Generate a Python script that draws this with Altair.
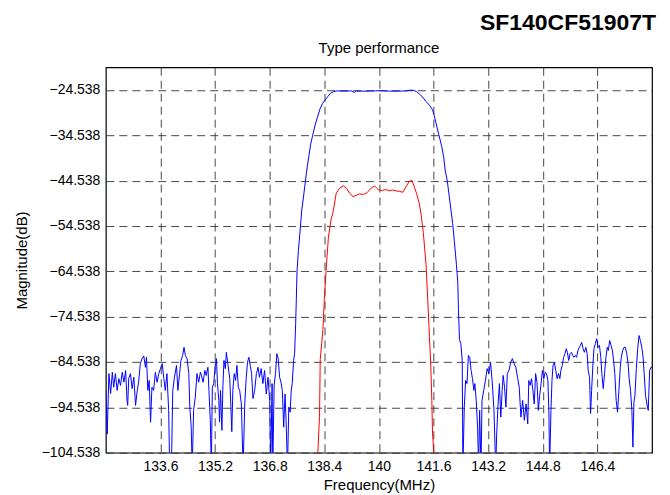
import altair as alt
import pandas as pd

# ---- data ----
blue_freq = [
    132.00, 132.04, 132.09, 132.14, 132.19, 132.23, 132.28, 132.33, 132.38, 132.43,
    132.48, 132.53, 132.58, 132.62, 132.64, 132.67, 132.72, 132.77, 132.82, 132.87,
    132.92, 132.96, 133.01, 133.06, 133.11, 133.16, 133.19, 133.23, 133.27, 133.31,
    133.35, 133.40, 133.45, 133.50, 133.55, 133.60, 133.65, 133.70, 133.74, 133.79,
    133.84, 133.87, 133.92, 133.96, 134.01, 134.07, 134.11, 134.16, 134.20, 134.25,
    134.29, 134.33, 134.38, 134.43, 134.46, 134.50, 134.53, 134.57, 134.62, 134.67,
    134.72, 134.77, 134.80, 134.85, 134.90, 134.94, 134.99, 135.02, 135.06, 135.09,
    135.12, 135.16, 135.20, 135.24, 135.27, 135.31, 135.33, 135.36, 135.40, 135.43,
    135.46, 135.50, 135.53, 135.58, 135.63, 135.66, 135.69, 135.72, 135.76, 135.80,
    135.84, 135.88, 135.92, 135.97, 136.02, 136.07, 136.11, 136.15, 136.19, 136.23,
    136.27, 136.31, 136.36, 136.41, 136.46, 136.50, 136.55, 136.60, 136.65, 136.70,
    136.75, 136.80, 136.83, 136.87, 136.89, 136.93, 136.97, 137.01, 137.05, 137.09,
    137.13, 137.17, 137.21, 137.25, 137.28, 137.32, 137.36, 137.40, 137.43, 137.46,
    137.50, 137.53, 137.56, 137.58, 137.60, 137.64, 137.68, 137.74, 137.80, 137.85,
    137.90, 137.95, 138.00, 138.06, 138.13, 138.20, 138.28, 138.35, 138.42, 138.50,
    138.58, 138.66, 138.76, 139.00, 139.20, 139.28, 139.34, 139.60, 139.90, 140.00,
    140.30, 140.60, 140.80, 140.90, 141.00, 141.10, 141.20, 141.30, 141.38, 141.48,
    141.57, 141.62, 141.67, 141.75, 141.84, 141.90, 141.94, 142.00, 142.06, 142.11,
    142.16, 142.21, 142.27, 142.31, 142.33, 142.36, 142.40, 142.44, 142.46, 142.50,
    142.54, 142.58, 142.62, 142.66, 142.70, 142.74, 142.78, 142.81, 142.85, 142.89,
    142.92, 142.95, 142.99, 143.02, 143.07, 143.12, 143.17, 143.22, 143.27, 143.32,
    143.37, 143.42, 143.45, 143.49, 143.53, 143.57, 143.61, 143.64, 143.68, 143.72,
    143.76, 143.81, 143.86, 143.91, 143.96, 144.01, 144.06, 144.11, 144.16, 144.21,
    144.26, 144.31, 144.36, 144.39, 144.43, 144.47, 144.51, 144.55, 144.59, 144.63,
    144.67, 144.71, 144.75, 144.79, 144.83, 144.87, 144.91, 144.95, 144.98, 145.00,
    145.04, 145.07, 145.10, 145.14, 145.18, 145.22, 145.26, 145.30, 145.33, 145.37,
    145.41, 145.45, 145.49, 145.52, 145.56, 145.60, 145.64, 145.68, 145.71, 145.75,
    145.79, 145.83, 145.87, 145.90, 145.94, 145.98, 146.02, 146.06, 146.10, 146.13,
    146.17, 146.20, 146.23, 146.27, 146.30, 146.34, 146.38, 146.42, 146.46, 146.50,
    146.53, 146.57, 146.61, 146.65, 146.69, 146.72, 146.76, 146.80, 146.84, 146.88,
    146.91, 146.95, 146.99, 147.03, 147.07, 147.10, 147.14, 147.18, 147.22, 147.26,
    147.30, 147.33, 147.37, 147.41, 147.44, 147.47, 147.50, 147.54, 147.58, 147.62,
    147.66, 147.70, 147.74, 147.77, 147.81, 147.85, 147.89, 147.93, 147.97, 148.00,
]
blue_db = [
    -90.8, -100.4, -87.1, -91.5, -86.8, -90.1, -87.1, -90.8, -88.2, -89.7,
    -86.8, -89.0, -86.4, -93.0, -94.1, -88.2, -87.1, -90.4, -87.9, -94.1,
    -90.8, -89.0, -84.9, -83.8, -83.2, -85.7, -83.5, -90.8, -88.6, -97.8,
    -90.1, -90.8, -86.8, -89.0, -87.1, -86.0, -84.9, -88.2, -90.8, -87.1,
    -95.2, -108.0, -108.0, -90.8, -87.9, -85.3, -90.8, -87.1, -84.2, -83.1,
    -81.3, -83.1, -83.8, -87.1, -94.5, -98.9, -108.0, -95.2, -92.3, -87.1,
    -89.0, -86.8, -87.5, -89.0, -86.4, -87.5, -85.7, -90.8, -97.4, -108.0,
    -90.1, -89.3, -85.7, -83.8, -89.3, -93.0, -97.8, -90.8, -99.6, -89.7,
    -84.2, -86.0, -82.4, -85.3, -88.2, -93.8, -99.9, -90.8, -87.1, -88.6,
    -85.3, -90.1, -90.8, -93.8, -108.0, -93.8, -88.2, -84.6, -83.5, -85.3,
    -87.1, -92.6, -90.8, -87.1, -85.7, -87.9, -86.0, -89.3, -86.4, -91.6,
    -87.9, -93.0, -108.0, -89.3, -108.0, -89.7, -87.1, -82.7, -83.8, -87.9,
    -89.0, -90.8, -98.9, -91.6, -97.4, -108.0, -94.5, -95.6, -90.8, -89.3,
    -84.2, -82.7, -76.1, -70.8, -64.5, -60.0, -56.5, -51.0, -47.5, -44.4,
    -41.5, -39.0, -36.5, -34.5, -32.3, -30.5, -28.6, -27.5, -26.8, -26.0,
    -25.3, -24.95, -24.75, -24.8, -24.75, -25.1, -24.8, -24.8, -24.75, -24.7,
    -24.8, -24.8, -24.75, -24.6, -24.6, -24.9, -25.5, -26.3, -27.1, -27.9,
    -28.9, -30.2, -31.8, -34.3, -37.0, -39.5, -42.2, -44.5, -48.0, -51.0,
    -54.0, -58.0, -63.0, -67.0, -73.0, -79.6, -80.5, -84.2, -108.0, -94.5,
    -88.6, -89.3, -83.1, -83.5, -86.4, -88.2, -90.8, -89.3, -93.0, -98.9,
    -108.0, -95.2, -108.0, -93.0, -90.8, -88.6, -86.0, -87.1, -84.6, -89.0,
    -95.2, -108.0, -100.4, -93.8, -89.3, -96.7, -90.8, -87.5, -90.1, -94.5,
    -87.1, -86.4, -84.6, -83.8, -84.9, -85.7, -87.9, -90.1, -96.7, -93.0,
    -97.4, -93.8, -98.2, -88.6, -89.7, -88.2, -90.8, -93.8, -87.1, -89.0,
    -95.2, -91.9, -89.3, -86.4, -88.2, -86.8, -87.1, -88.6, -96.0, -108.0,
    -95.2, -88.6, -85.3, -84.6, -86.4, -88.2, -87.1, -88.2, -86.4, -85.3,
    -83.5, -82.7, -81.6, -82.4, -84.2, -82.7, -82.4, -83.1, -83.5, -83.1,
    -83.5, -82.0, -81.3, -80.9, -80.2, -81.6, -82.4, -81.3, -82.7, -86.4,
    -87.9, -95.9, -90.8, -84.9, -81.6, -80.5, -79.4, -81.3, -80.9, -83.5,
    -87.1, -90.4, -87.1, -83.5, -81.3, -82.0, -79.8, -80.9, -82.0, -84.6,
    -87.1, -93.0, -95.6, -90.8, -85.7, -83.5, -82.0, -81.3, -81.3, -82.7,
    -84.9, -88.2, -90.8, -95.2, -103.3, -93.4, -91.9, -86.0, -81.6, -78.7,
    -79.8, -81.3, -83.5, -87.1, -91.9, -93.8, -95.2, -86.4, -85.7, -85.7,
]

red_freq = [
    138.15, 138.21, 138.26, 138.28, 138.36, 138.40, 138.45, 138.52, 138.60, 138.65,
    138.75, 138.85, 138.96, 139.05, 139.14, 139.24, 139.33, 139.43, 139.55, 139.65,
    139.77, 139.87, 139.95, 140.00, 140.10, 140.20, 140.30, 140.40, 140.50, 140.60,
    140.70, 140.80, 140.89, 140.97, 141.04, 141.10, 141.18, 141.23, 141.30, 141.38,
    141.43, 141.48, 141.52, 141.55, 141.57, 141.62, 141.65,
]
red_db = [
    -110.0, -104.5, -96.5, -84.0, -77.4, -70.8, -64.5, -57.0, -53.0, -51.7,
    -47.3, -46.2, -45.7, -46.2, -47.3, -48.05, -47.8, -47.45, -47.6, -47.2,
    -46.2, -45.7, -46.3, -46.6, -46.7, -46.5, -46.8, -46.6, -46.8, -46.9,
    -47.1, -45.8, -44.7, -44.5, -46.0, -47.3, -49.5, -51.7, -56.0, -63.0,
    -70.8, -78.9, -85.5, -93.0, -100.2, -106.0, -110.0,
]

x_ticks = [133.6, 135.2, 136.8, 138.4, 140, 141.6, 143.2, 144.8, 146.4]
y_ticks = [-104.538, -94.538, -84.538, -74.538, -64.538, -54.538, -44.538, -34.538, -24.538]
x_domain = [132, 148]
y_domain = [-104.538, -19.538]

main_title = "SF140CF51907T"
sub_title = "Type performance"
x_title = "Frequency(MHz)"
y_title = "Magnitude(dB)"

FONT = "Liberation Sans"
W, H = 547, 386

blue_df = pd.DataFrame({"f": blue_freq, "db": blue_db})
red_df = pd.DataFrame({"f": red_freq, "db": red_db})

x_enc = alt.X(
    "f:Q",
    scale=alt.Scale(domain=x_domain, nice=False, zero=False),
    axis=alt.Axis(
        values=x_ticks, format=".4~g", title=x_title, ticks=False,
        labelPadding=7, titlePadding=4, grid=True,
    ),
)
y_enc = alt.Y(
    "db:Q",
    scale=alt.Scale(domain=y_domain, nice=False, zero=False),
    axis=alt.Axis(
        values=y_ticks, format=".3f", title=y_title, ticks=False,
        labelPadding=6, titlePadding=12, grid=True,
    ),
)

blue = alt.Chart(blue_df).mark_line(color="#0000ff", strokeWidth=1, clip=True).encode(x=x_enc, y=y_enc)
red = alt.Chart(red_df).mark_line(color="#ff0000", strokeWidth=1, clip=True).encode(x="f:Q", y="db:Q")

t1 = alt.Chart(pd.DataFrame({"t": [main_title]})).mark_text(
    font=FONT, fontSize=23, fontWeight="bold", align="right", baseline="alphabetic", color="black"
).encode(text="t:N", x=alt.value(W + 4), y=alt.value(-37))

t2 = alt.Chart(pd.DataFrame({"t": [sub_title]})).mark_text(
    font=FONT, fontSize=15, align="center", baseline="middle", color="black"
).encode(text="t:N", x=alt.value(W / 2), y=alt.value(-19))

chart = (
    alt.layer(blue, red, t1, t2)
    .properties(
        width=W, height=H,
        autosize=alt.AutoSizeParams(type="none"),
        padding={"left": 98, "top": 59, "right": 10, "bottom": 40},
        background="white",
    )
    .configure_view(stroke="black", strokeWidth=1.2)
    .configure_axis(
        labelFont=FONT, titleFont=FONT, labelFontSize=14, titleFontSize=15,
        labelColor="black", titleColor="black", titleFontWeight="normal",
        domain=False, gridColor="#333", gridDash=[8, 5], gridWidth=1, gridOpacity=0.9,
    )
)

chart.save("out.html", embed_options={"renderer": "svg", "actions": False})
